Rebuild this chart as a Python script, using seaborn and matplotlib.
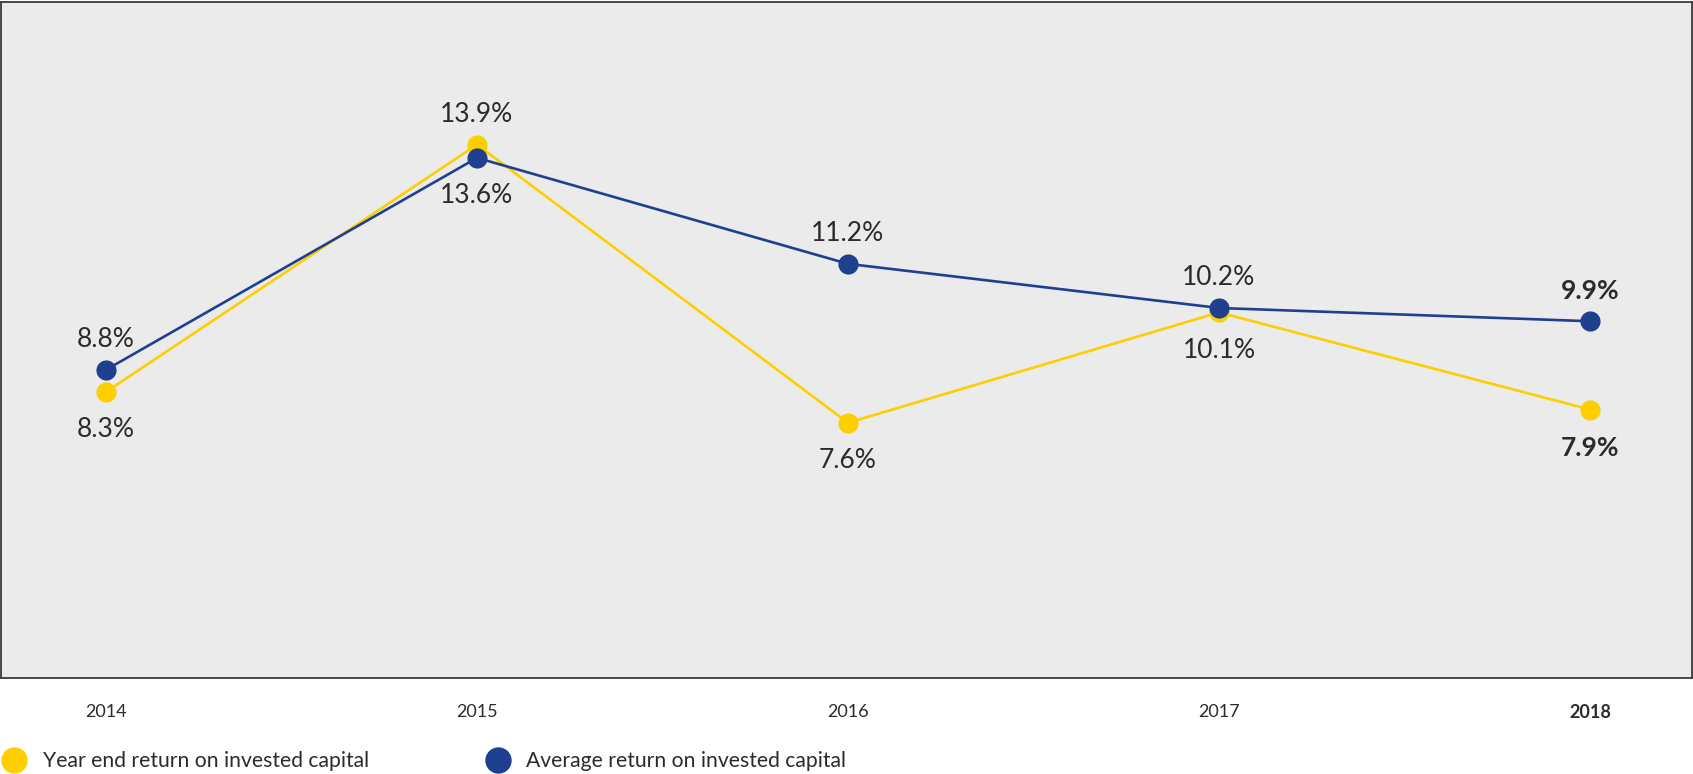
import matplotlib
matplotlib.use("Agg")
import matplotlib.pyplot as plt
from matplotlib.lines import Line2D
import seaborn as sns
import pandas as pd

years = ["2014", "2015", "2016", "2017", "2018"]
year_end_roic = [8.3, 13.9, 7.6, 10.1, 7.9]
average_roic = [8.8, 13.6, 11.2, 10.2, 9.9]
series_names = ["Year end return on invested capital", "Average return on invested capital"]

YELLOW = "#FDCF00"
BLUE = "#1F3F8F"
TEXT = "#2B2B2B"

sns.set_theme(style="white")
plt.rcParams["font.family"] = ["Lato", "DejaVu Sans"]

df = pd.DataFrame({
    "pos": list(range(len(years))) * 2,
    "value": year_end_roic + average_roic,
    "series": [series_names[0]] * len(years) + [series_names[1]] * len(years),
})

fig = plt.figure(figsize=(16.93, 7.74), dpi=100)
ax = fig.add_axes([1 / 1693, 1 - 678 / 774, 1691 / 1693, 676 / 774])
ax.set_facecolor("#EBEBEB")

sns.lineplot(data=df, x="pos", y="value", hue="series",
             palette={series_names[0]: YELLOW, series_names[1]: BLUE},
             hue_order=series_names, marker="o", markersize=14.5,
             markeredgewidth=0, linewidth=1.9, legend=False, ax=ax)

ax.set_xlim(-0.283, 4.275)
ax.set_ylim(1.82, 17.13)
ax.set_xlabel("")
ax.set_ylabel("")
ax.set_yticks([])
ax.set_xticks(range(len(years)))
ax.set_xticklabels(years)
ax.tick_params(axis="x", length=0, pad=18.5, labelsize=13, labelcolor=TEXT)
for lbl in ax.get_xticklabels():
    if lbl.get_text() == years[-1]:
        lbl.set_fontweight("bold")
for sp in ax.spines.values():
    sp.set_color("#3A3A3A")
    sp.set_linewidth(1.3)

# value labels: above (1) or below (-1) each point
ye_side = [-1, 1, -1, -1, -1]
avg_side = [1, -1, 1, 1, 1]
last = len(years) - 1


def offset(side):
    return 30 if side > 0 else -38


for values, sides in ((year_end_roic, ye_side), (average_roic, avg_side)):
    for i, (v, s) in enumerate(zip(values, sides)):
        ax.annotate(f"{v:.1f}%", (i, v), xytext=(0, offset(s)), textcoords="offset pixels",
                    ha="center", va="center", fontsize=19, color=TEXT,
                    fontweight="bold" if i == last else "normal")

handles = [
    Line2D([], [], linestyle="none", marker="o", markersize=19, markeredgewidth=0,
           color=YELLOW, label=series_names[0]),
    Line2D([], [], linestyle="none", marker="o", markersize=19, markeredgewidth=0,
           color=BLUE, label=series_names[1]),
]
fig.legend(handles=handles, loc="center left", bbox_to_anchor=(-0.004, 1 - 761 / 774),
           ncol=2, frameon=False, fontsize=15.2, handletextpad=0.35,
           columnspacing=5.1, labelcolor=TEXT, borderaxespad=0, borderpad=0)

fig.savefig("out.png", dpi=100, facecolor="white")
